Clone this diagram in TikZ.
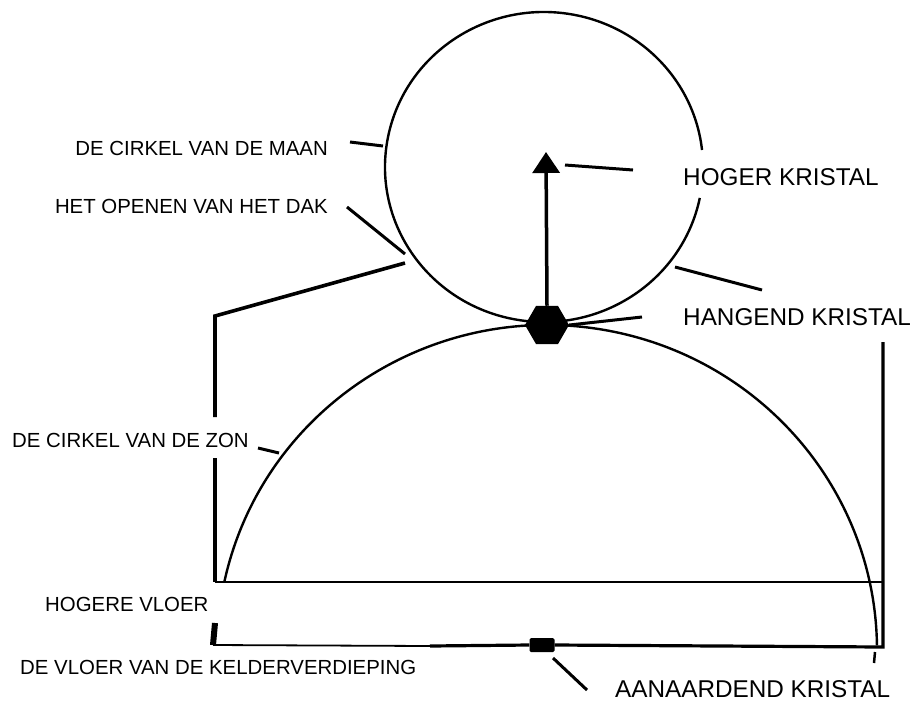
\documentclass[tikz,border=0pt]{standalone}
\usepackage{fontspec}
\setmainfont{Liberation Sans}
\usetikzlibrary{shapes.geometric,arrows.meta}
\begin{document}
\begin{tikzpicture}[x=1pt,y=-1pt,
  small/.style={font=\fontsize{20.4}{24}\selectfont, inner sep=0pt},
  big/.style={font=\fontsize{24.3}{28}\selectfont, inner sep=0pt},
  leader/.style={line width=3pt},
  curve/.style={line width=2.4pt},
  floorline/.style={line width=2pt},
  wall/.style={line width=3.2pt}]
\useasboundingbox (0,0) rectangle (915,702);

% moon circle (gap where the label sits)
\draw[curve] (544,167) ++(11.5:159 and 155)
  arc[start angle=11.5, end angle=353.7, x radius=159, y radius=155];
% sun arc
\draw[curve] (547,650) ++(192.1:330 and 325)
  arc[start angle=192.1, end angle=359.2, x radius=330, y radius=325];

% crystals
\node[regular polygon, regular polygon sides=6,
      fill=black, minimum size=44pt, inner sep=0pt] (hang) at (547,325) {};
\coordinate (top) at (546,152);
\draw[line width=3.5pt, -{Triangle[width=27pt,length=21pt]}] (hang.north) -- (top);
\node[fill=black, minimum width=25pt, minimum height=14pt, inner sep=0pt,
      rounded corners=1.5pt] (ground) at (542,645) {};

% labels
\node[small, anchor=east] (maan) at (328,148) {DE CIRKEL VAN DE MAAN};
\node[small, anchor=east] (dak) at (328,206) {HET OPENEN VAN HET DAK};
\node[small, anchor=west] (zon) at (12,440) {DE CIRKEL VAN DE ZON};
\node[small, anchor=west] (hv) at (45,604) {HOGERE VLOER};
\node[small, anchor=west] (kelder) at (20,667) {DE VLOER VAN DE KELDERVERDIEPING};
\node[big, anchor=west] (hoger) at (683,177) {HOGER KRISTAL};
\node[big, anchor=west] (hangend) at (683,317) {HANGEND KRISTAL};
\node[big, anchor=west] (aan) at (615,689) {AANAARDEND KRISTAL};

% leader coordinates
\coordinate (m1) at (350,142); \coordinate (m2) at (383,146);
\coordinate (d1) at (347,207); \coordinate (d2) at (405,254);
\coordinate (z1) at (258,448); \coordinate (z2) at (279,453);
\coordinate (h1) at (565,165); \coordinate (h2) at (633,170);
\coordinate (g1) at (642,317);
\coordinate (r1) at (675,267); \coordinate (r2) at (762,290);
\coordinate (a1) at (553,658); \coordinate (a2) at (587,690);

\draw[leader] (m1) -- (m2);
\draw[leader] (d1) -- (d2);
\draw[leader] (z1) -- (z2);
\draw[leader] (h1) -- (h2);
\draw[leader] (g1) -- (hang.east);
\draw[leader] (r1) -- (r2);
\draw[leader] (a1) -- (a2);

% building lines
\coordinate (roofA) at (405,263);
\coordinate (roofB) at (215,316);
\coordinate (wallA) at (215,417);
\coordinate (wallB) at (215,458);
\coordinate (upL) at (215,582);
\coordinate (upR) at (883,582);
\coordinate (rTop) at (883,342);
\coordinate (rBot) at (883,647);
\coordinate (lowA) at (215,623);
\coordinate (lowL) at (213,645);
\coordinate (lowM) at (430,646);

\draw[line width=3.6pt, line join=miter] (roofA) -- (roofB) -- (wallA);
\draw[line width=3.6pt] (wallB) -- (upL);
\draw[floorline] (upL) -- (upR);
\draw[line width=6pt] (lowA) -- (lowL);
\draw[line width=1.8pt] (lowL) -- (lowM);
\draw[wall] (lowM) -- (ground.west);
\draw[wall] (ground.east) -- (rBot) -- (rTop);
\coordinate (t1) at (875,652); \coordinate (t2) at (874,663);
\draw[line width=2.5pt] (t1) -- (t2);
\end{tikzpicture}
\end{document}
